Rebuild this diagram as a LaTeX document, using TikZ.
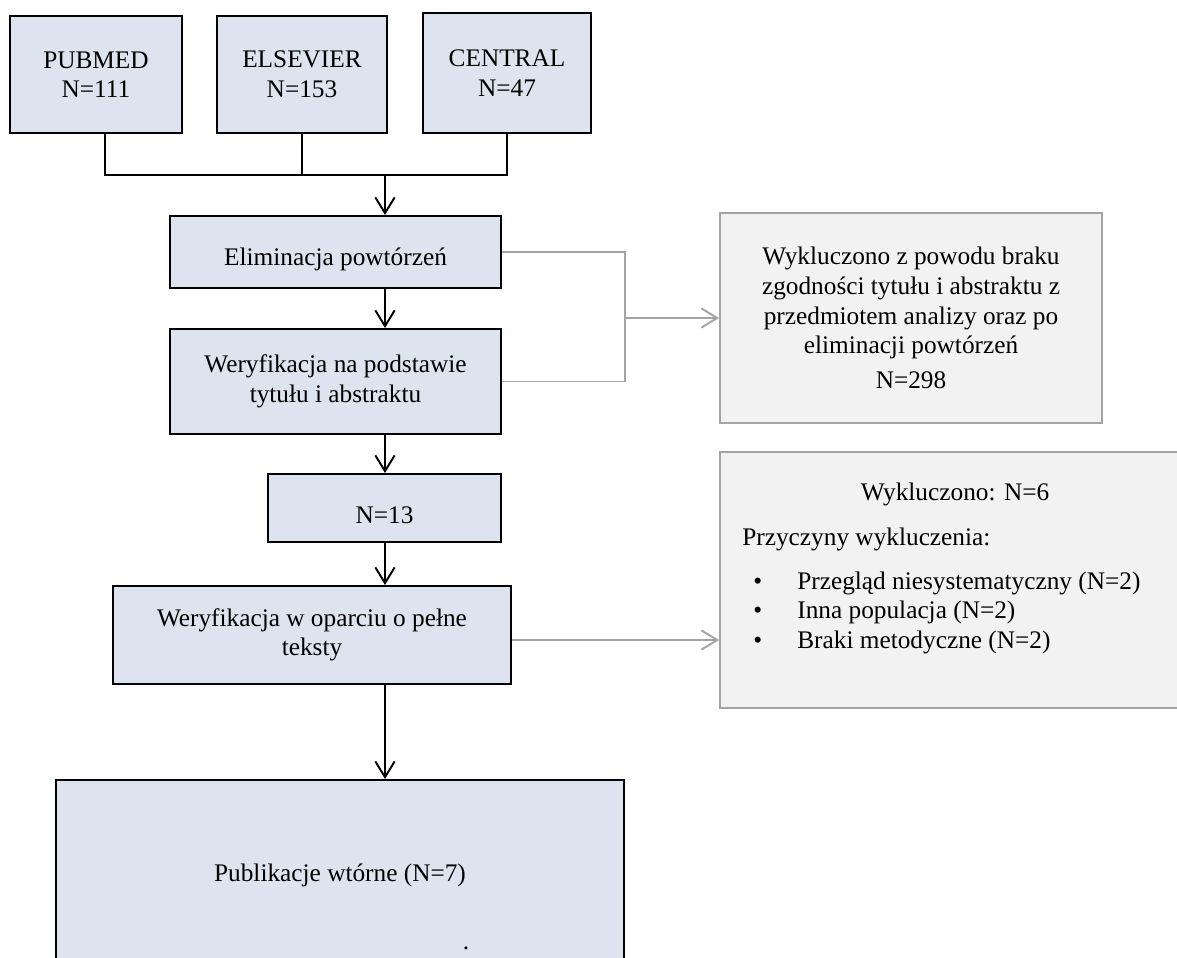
\documentclass[tikz,border=0pt]{standalone}
\usepackage{fontspec}
\setmainfont{Liberation Serif}
\usetikzlibrary{arrows.meta}

\definecolor{boxfill}{HTML}{DDE4EF}
\definecolor{exclfill}{HTML}{F2F2F2}
\definecolor{exclline}{HTML}{A3A3A3}

\begin{document}
\begin{tikzpicture}[>={Straight Barb[length=9pt,width=11pt]},
  font=\fontsize{14.4}{16.8}\selectfont,
  stepbox/.style={draw=black, line width=1.1pt, fill=boxfill, align=center},
  exclbox/.style={draw=exclline, line width=1.1pt, fill=exclfill, align=center},
  lowered/.style={execute at begin node={\rule{0pt}{#1}}},
  flow/.style={->, line width=1.1pt},
  side/.style={line width=1.1pt, draw=exclline}]

\fill[white] (0,0) rectangle (23.54,-19.16);
\clip (0,0) rectangle (23.54,-19.16);

% --- Databases ---
\node[stepbox, minimum width=3.44cm, minimum height=2.34cm] (pubmed) at (1.92,-1.49) {PUBMED\\N=111};
\node[stepbox, minimum width=3.40cm, minimum height=2.34cm] (elsevier) at (6.04,-1.49) {ELSEVIER\\N=153};
\node[stepbox, minimum width=3.36cm, minimum height=2.40cm] (central) at (10.14,-1.46) {CENTRAL\\N=47};

% --- Main column ---
\node[stepbox, lowered=18pt, minimum width=6.62cm, minimum height=1.44cm] (elim) at (6.71,-5.04) {Eliminacja powtórzeń};
\node[stepbox, lowered=18pt, minimum width=6.62cm, minimum height=2.10cm] (wer1) at (6.71,-7.63) {Weryfikacja na podstawie\\tytułu i abstraktu};
\node[stepbox, lowered=17.5pt, minimum width=4.66cm, minimum height=1.36cm] (n13) at (7.69,-10.16) {N=13};
\node[stepbox, lowered=23pt, minimum width=7.96cm, minimum height=1.96cm] (wer2) at (6.24,-12.70) {Weryfikacja w oparciu o pełne\\teksty};
\node[stepbox, minimum width=11.36cm, minimum height=3.80cm] (pub) at (6.80,-17.50) {Publikacje wtórne (N=7)};
\node[anchor=base, inner sep=0pt] (dot) at (9.32,-18.98) {.};

% --- Excluded ---
\node[exclbox, lowered=19pt, minimum width=7.64cm, minimum height=4.20cm] (excl1) at (18.22,-6.36)
  {Wykluczono z powodu braku\\zgodności tytułu i abstraktu z\\przedmiotem analizy oraz po\\eliminacji powtórzeń\\[3pt]N=298};
\node[exclbox, minimum width=9.40cm, minimum height=5.12cm] (excl2) at (19.10,-11.60) {};
\node (exhead) at (19.10,-9.88) {Wykluczono: N=6};
\node[anchor=west, inner sep=0pt] (exwhy) at (14.84,-10.78) {Przyczyny wykluczenia:};
\node[anchor=west, inner sep=0pt] (exlist) at (15.06,-12.26)
  {\begin{tabular}{@{}l@{\hspace{20pt}}l@{}}
    • & Przegląd niesystematyczny (N=2)\\
    • & Inna populacja (N=2)\\
    • & Braki metodyczne (N=2)
  \end{tabular}};

% --- Connectors ---
\coordinate (spine) at (7.70,-3.50);
\coordinate (fork) at (12.50,-6.36);
\draw[line width=1.1pt] ([xshift=0.18cm]pubmed.south) |- (central.south |- spine) -- (central.south);
\draw[line width=1.1pt] (elsevier.south) -- (elsevier.south |- spine);
\draw[flow] (spine) -- (spine |- elim.north);
\draw[flow] (elim.south -| spine) -- (spine |- wer1.north);
\draw[flow] (wer1.south -| spine) -- (spine |- n13.north);
\draw[flow] (n13.south -| spine) -- (spine |- wer2.north);
\draw[flow] (wer2.south -| spine) -- (spine |- pub.north);

\draw[side] (elim.east) -| (fork) |- (wer1.east);
\draw[side, ->] (fork) -- (fork -| excl1.west);
\draw[side, ->] ([yshift=-0.1cm]wer2.east) -- ([yshift=-0.1cm]wer2.east -| excl2.west);

\end{tikzpicture}
\end{document}
